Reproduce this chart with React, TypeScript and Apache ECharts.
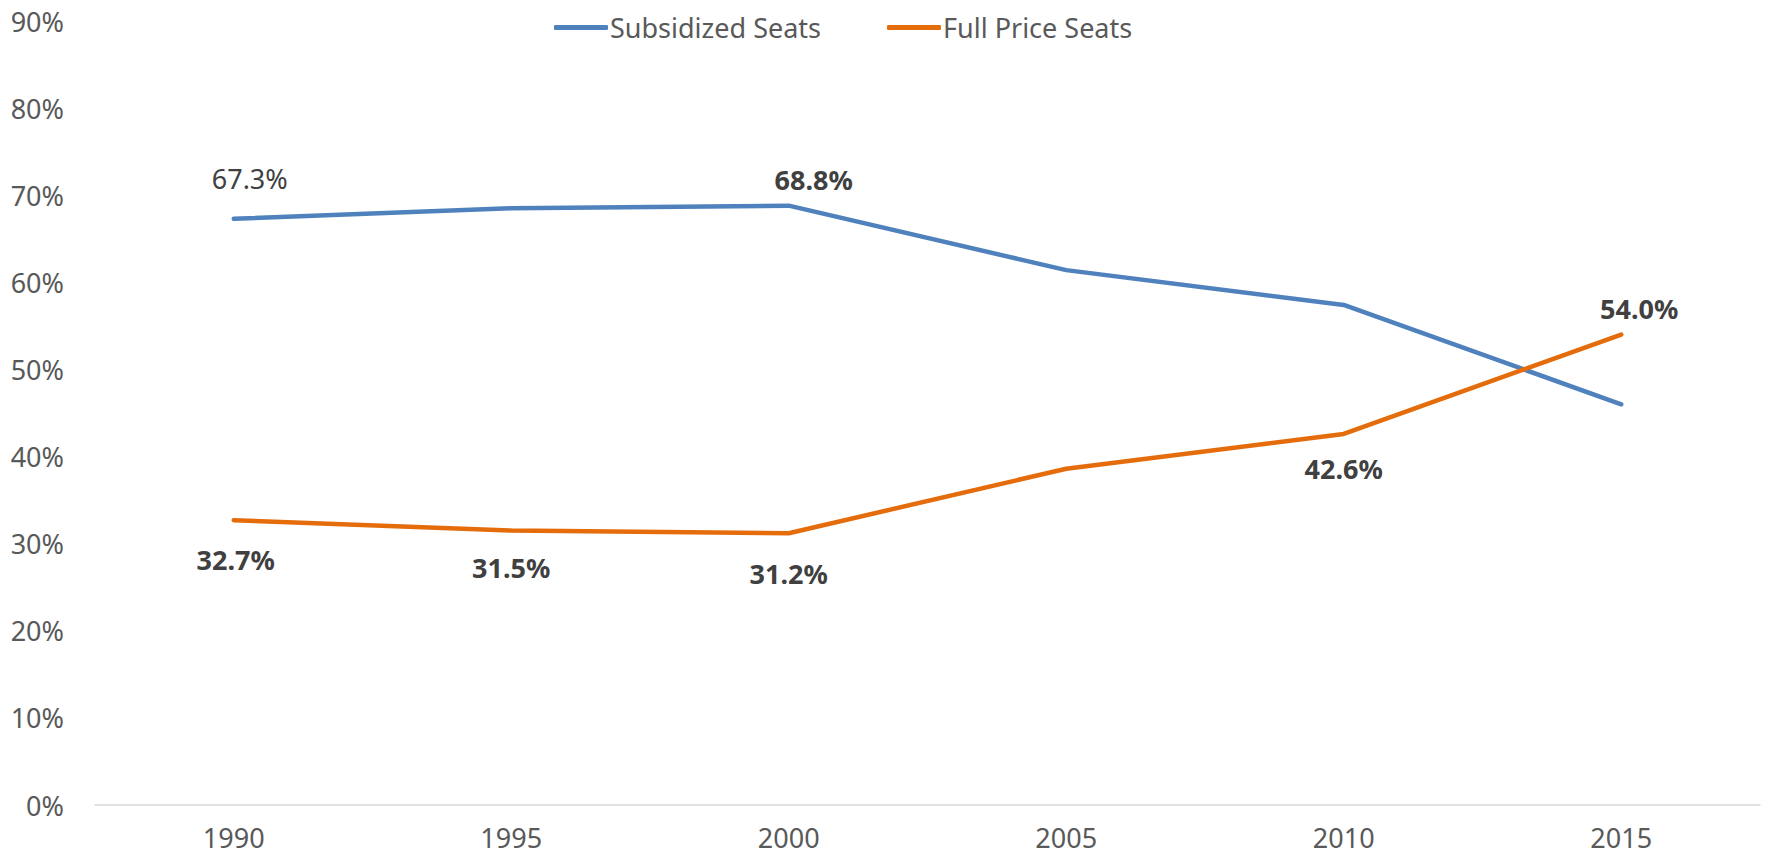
import React, { useEffect, useRef } from "react";
import * as echarts from "echarts";

const years = ["1990", "1995", "2000", "2005", "2010", "2015"];
const subsidized = [67.3, 68.5, 68.8, 61.4, 57.4, 46.0];
const fullPrice = [32.7, 31.5, 31.2, 38.6, 42.6, 54.0];
// which points carry a data label
const subsidizedLabeled = [true, false, true, false, false, false];
const fullPriceLabeled = [true, true, true, false, true, true];
const yTicks = [0, 10, 20, 30, 40, 50, 60, 70, 80, 90];

const FONT = "'Noto Sans', 'Open Sans', sans-serif";

export default function App() {
  const ref = useRef<HTMLDivElement>(null);
  useEffect(() => {
    if (!ref.current) return;
    const chart = echarts.init(ref.current, undefined, { renderer: "svg" });

    // label centre relative to the data point (px)
    const subLabelCfg: any[] = [
      { dx: 16, dy: -40, fontWeight: "normal" },
      null,
      { dx: 25, dy: -26, fontWeight: "bold" },
      null,
      null,
      null,
    ];
    const fullLabelCfg: any[] = [
      { dx: 2, dy: 39 },
      { dx: 0, dy: 37 },
      { dx: 0, dy: 40 },
      null,
      { dx: 0, dy: 35 },
      { dx: 18, dy: -26 },
    ];

    const labelBase = {
      fontFamily: FONT,
      fontSize: 27,
      lineHeight: 28,
      color: "#404040",
      align: "center",
      verticalAlign: "middle",
      formatter: (p: any) => Number(p.value).toFixed(1) + "%",
    };

    const build = (vals: number[], flags: boolean[], cfg: any[]) =>
      vals.map((v, i) => {
        const c = cfg[i];
        if (!flags[i] || !c) return { value: v, label: { show: false } };
        return {
          value: v,
          label: {
            ...labelBase,
            show: true,
            position: [0.5 + c.dx, 0.5 + c.dy],
            fontWeight: c.fontWeight || "bold",
          },
        };
      });

    const subData = build(subsidized, subsidizedLabeled, subLabelCfg);
    const fullData = build(fullPrice, fullPriceLabeled, fullLabelCfg);

    chart.setOption({
      animation: false,
      backgroundColor: "#ffffff",
      textStyle: { fontFamily: FONT },
      legend: {
        top: 9,
        left: 549,
        itemWidth: 54,
        itemHeight: 5,
        itemGap: 66,
        icon: "roundRect",
        textStyle: {
          fontFamily: FONT,
          fontSize: 27,
          color: "#595959",
          padding: [0, 0, 0, -3],
        },
        data: ["Subsidized Seats", "Full Price Seats"],
      },
      grid: { left: 95, right: 15, top: 21, bottom: 51, containLabel: false },
      xAxis: {
        type: "category",
        data: years,
        boundaryGap: true,
        axisLine: { show: true, lineStyle: { color: "#D9D9D9", width: 1.5 } },
        axisTick: { show: false },
        axisLabel: {
          fontFamily: FONT,
          fontSize: 27,
          lineHeight: 27,
          color: "#595959",
          margin: 19,
        },
        splitLine: { show: false },
      },
      yAxis: {
        type: "value",
        min: yTicks[0],
        max: yTicks[yTicks.length - 1],
        interval: 10,
        axisLine: { show: false },
        axisTick: { show: false },
        splitLine: { show: false },
        axisLabel: {
          fontFamily: FONT,
          fontSize: 27,
          color: "#595959",
          margin: 31,
          formatter: (v: number) => v + "%",
        },
      },
      series: [
        {
          name: "Subsidized Seats",
          type: "line",
          data: subData,
          symbol: "circle",
          symbolSize: 1,
          showSymbol: true,
          lineStyle: { color: "#4F81BD", width: 4.5, cap: "round", join: "round" },
          itemStyle: { color: "#4F81BD" },
          labelLayout: { hideOverlap: false },
        },
        {
          name: "Full Price Seats",
          type: "line",
          data: fullData,
          symbol: "circle",
          symbolSize: 1,
          showSymbol: true,
          lineStyle: { color: "#E46C0A", width: 4.5, cap: "round", join: "round" },
          itemStyle: { color: "#E46C0A" },
          labelLayout: { hideOverlap: false },
        },
      ],
    });
    return () => chart.dispose();
  }, []);

  return (
    <div
      ref={ref}
      style={{ position: "absolute", left: 0, top: 0, width: 1775, height: 856 }}
    />
  );
}
